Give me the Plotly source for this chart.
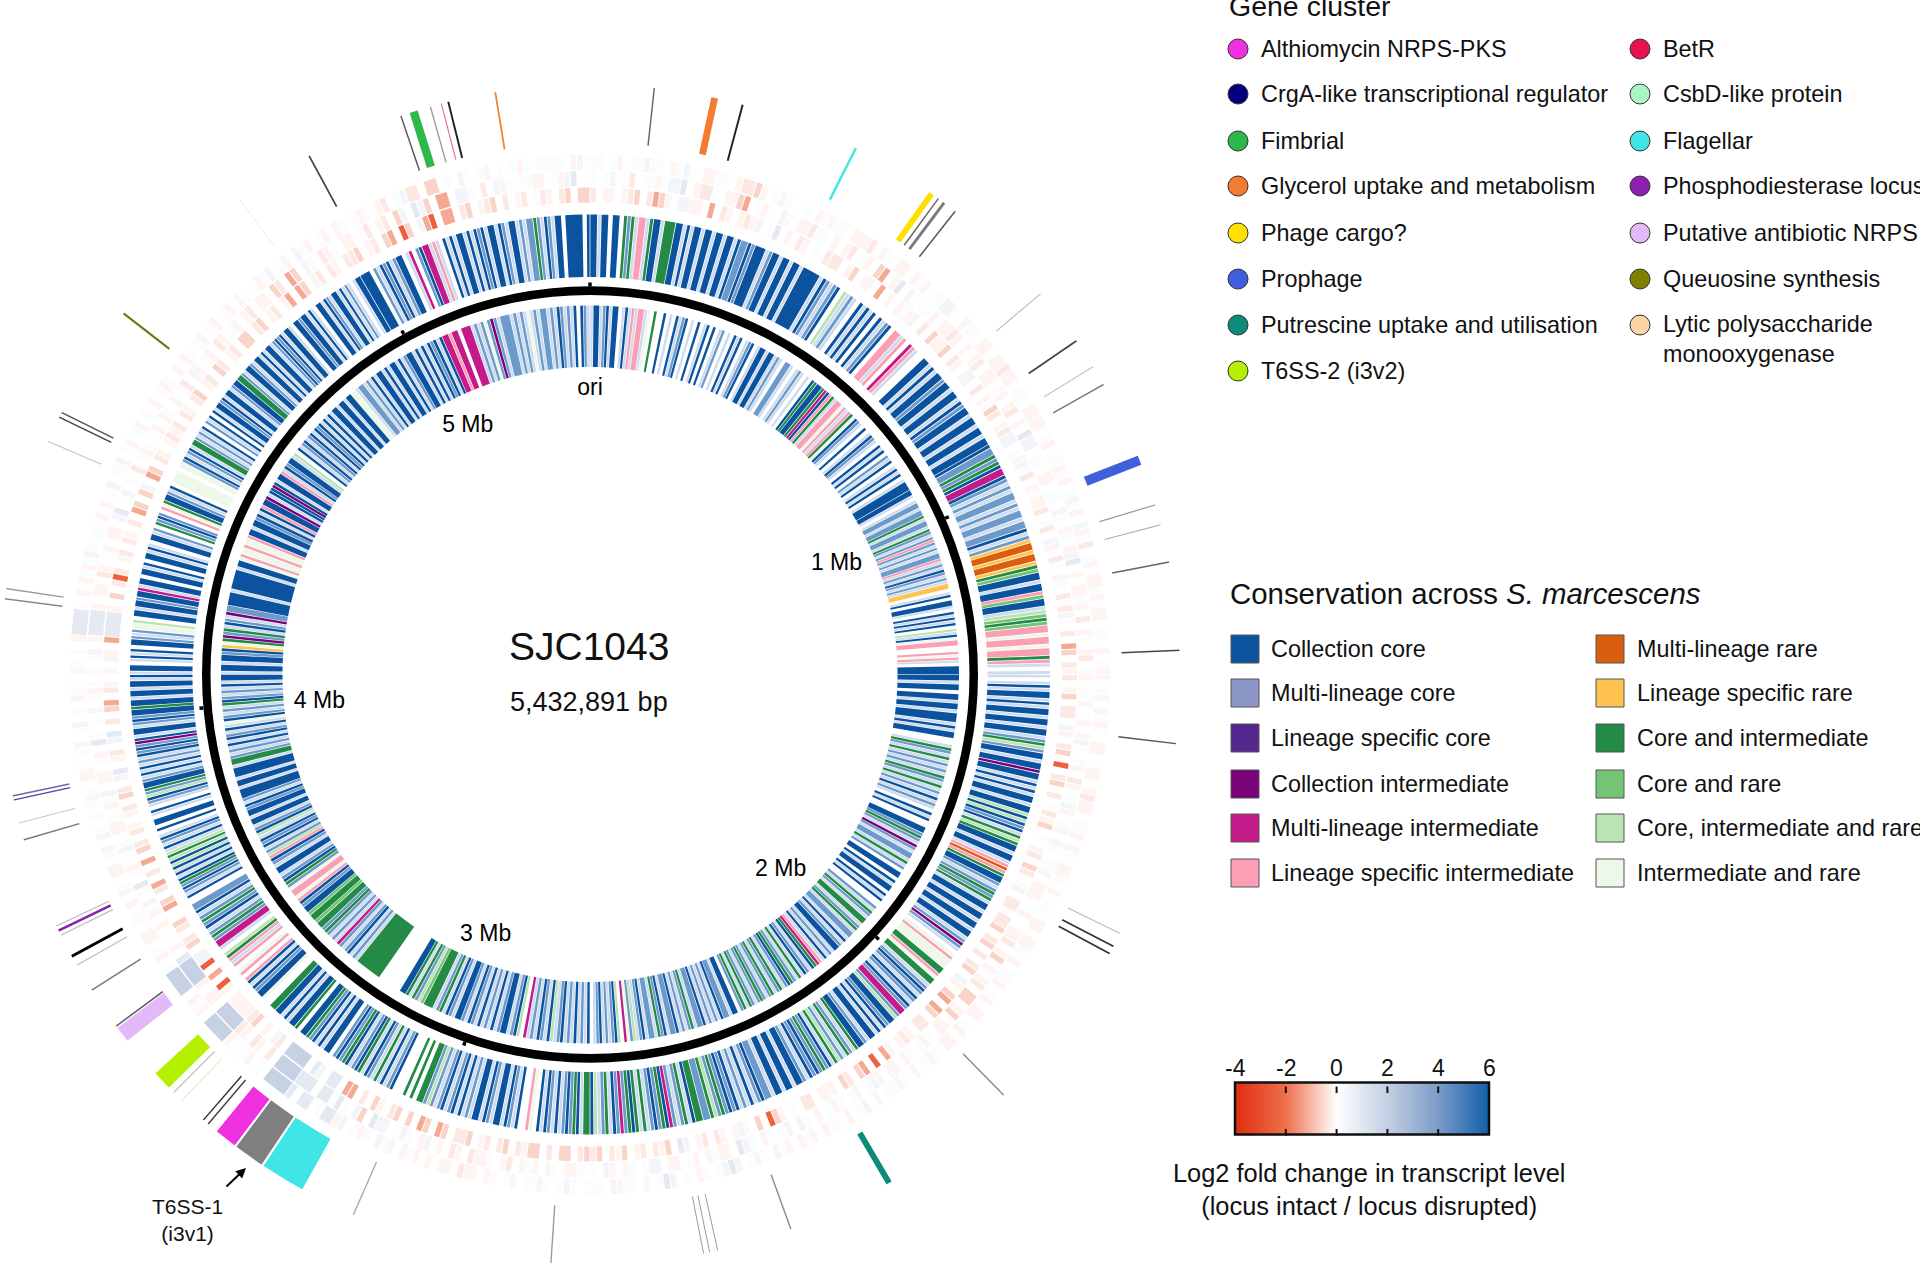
import plotly.graph_objects as go

W, H = 1920, 1270
CX, CY, RMAX = 590, 674.5, 590
FONT = "Liberation Sans"
GENOME_BP = 5432891

# conservation classes used by the two gene rings
class_names = {"B": "Collection core", "M": "Multi-lineage core", "U": "Lineage specific core",
               "D": "Collection intermediate", "P": "Multi-lineage intermediate",
               "K": "Lineage specific intermediate", "O": "Multi-lineage rare", "Y": "Lineage specific rare",
               "G": "Core and intermediate", "g": "Core and rare", "c": "Core, intermediate and rare",
               "e": "Intermediate and rare", "p": "Core (pale stripes)"}
class_colors = {"B": "#0c539f", "M": "#6c9aca", "U": "#54278f", "D": "#7a0177", "P": "#c51b8a",
                "K": "#fa9fb5", "O": "#d95f0e", "Y": "#fec44f", "G": "#238b45", "g": "#74c476",
                "c": "#bae4b3", "e": "#edf8e9", "p": "#cddcee"}

# gene rings, clockwise from ori, one string per 30 degree sector
inner_ring = [
    "pBBpMBpBB.pBpKpKKpe.G..B.p.BpMB.p.B.pB.B.pM.p.BpB.pMB.pBBpBB",
    "pMp.MMp.pMp.p.BGBBGPBKGpKKeKpKGeBMp.B.pBMp.BpB.MpB.pBpB.pBBB",
    "BBp.pMMpMMGpMMpGMpMKMpMpMMKpMpBMpMpYY.pB.BBp.BpBpB.cpBeKK..KeKp.BBB",
    "BBpBB.BBpBBpBBBpBpBB..pGMpGpMpMpGMpGpMpBpMp.BpB..BBMGMpDMpMM",
    "pGpM.BB.BpBB.BpB..MpGMpGGpMGpMMpBpMBBpMpBpKPGBpMBpGpMGBMpGMp",
    "GMpMGMpMGpGM.BBpMMBpMpMpBMMpGMpMpBMMpBMGpMMpBMpcMeP.cBMpMpBMp.",
    "BpMpBpMpBMpcBpMBpMpP.cBMpBBMpBpMpBpMBpMBBpMBpGMpGGGgcMGpG",
    "BB.......GGGGGGGGpMpBMpMPpMpMGMGGgGGgBBMBKeKKeMGBMpBBpMB",
    "KcMpBMBpcBMpBBpBBMBpMBBBpBBpBBBpGGMpMpBpBMpBpeBMpMpGBMpMpBpBB",
    "pBBpBBMBYeGDMGpBMpDMMBBBBpBBBBBBpBBeKeeKeeKBBpBBMBpBKBBDpB",
    "BDBpBBKpBMBBpc.BpMBpMBpBMBpBpBpBBpBBpBBeepMMpMpBpBBpBpBBpBpM",
    "BBpBpBpBMBpBPPKPP.PPPpMpMeMDMpMMMpMpMpepMpMMpMpBMpMpB.BMp",
]
outer_ring = [
    "BBpBB.BB.GMGpKKpGBBpGGGBBpBpBBpBBpBBpBBpBMMBMBBBpMBBpBBpBBpBBBBB",
    "pBMpMB.cpMp.BpBpB.BpMB.KKpK.PKp..BBpBpBBMBBpBBpBMBBpBBpBBpBB",
    "BMMGMGBPPBMpMpMMpMpMMpMMBpMYOOYOOYGgBBpBBKgBBpcgGgKKeKKeKKGKp.p",
    "p.pBpBBpBpBBpBBpBBpMGcMBBpBBDBBpBpBpBBpBBcBcBMBpGcGBBpBBpKOKGBBMpMGMGp",
    "BBpBBpBBpBBpMDMp.eKeeeGGKeGGpMBMpBMpBMPPMcBBMBpBpBBpMBBGpMGpMcGpBMGM",
    "BMBpMBBpBBpBBpMMBMpBpMpBMBMGMcGMMGGBpGMpMPBGMBMpGpGBGMPMBpGMpcB",
    "GGpBGMBMpBpMBpB.eK..BpMBpBBpMBpBBpMpBpBMpBMpMcMGG.G.G...BMpBpGpMBp",
    "GBMpBGMBM.BBpBpBMGBB.GBBpBpBBGG..eBBMBpBK.Ke.KpKGc.pPPMGMpBMGMpBMM",
    "..BpMBMGBpBpBcBcGcpBpMBp.B.BB.pB.pMBcMGBBMpBpBpMpBMBMDBpBBpMBMBBGBBpBBpBBpB",
    "pBB.pBpB.BBMpMeec.BBpBBMBBPpBB.BBpB.BBpBp.BBpM.GMBM.KeGBBMpB.eeee.eeMBpMBp",
    "GGMpMpB.MpB.BpBBMBpBBpMBBGGMpBBMpBBpBpBBpMBMBpBBp.BBMBBpBp.BBpBMpBBpBpMp.pBB",
    "BBB.MpBMBpMBB.pP.MBPPpKp.BpBpBBpBpBMBpBBpBMpBBpMpMMGMpBMpBB.BBBBB.B",
]

# log2 fold change codes for the three transcript rings
fold_codes = {"b": -2.4, "c": -1.2, "d": -0.6, "e": -0.3, "f": -0.15, "0": 0.0,
              "g": 0.12, "h": 0.4, "i": 0.9, "j": 1.9}
heat_outer = ["gg0gf0gghgg0fghg0ffgg0feedf0gfg00g0fgfgg", "0fffe0fg0ff0fgf0gghhg0fgg0ff0ffeff0gg0ff",
              "ff0gf0ggfgf0gfgf0hfge0gf0ffgf0ff0gg0f0gf", "f0gf0fgfg0ff0gff0feff0ggf0fg0ffg0f0gg0ff",
              "0ffg0f0ggf0gf0ff0gf0ff0gfg0f0gfgg0f0hg0f", "0ggf0fgf0fgh0gfg0hihg0gf0g0hig0f0ggfh0gg",
              "g0ghg0gfgg0fg0gf0ffe0ff0f0fgf0fgh0gfg0hf", "iig0ii0ijjjj0g0fg0gfjjjj0fgf0jjjjg0fg0ff",
              "0gg0f0fg0ff0gf0hg0g0gfg0ffg0gf0gh0g0fgg0", "fg0g0fiiiig0f0fgfghg0gg0f0f0gh0ggf0gf0gf0",
              "g0f0gfg0f0fg0gf0gf0gf0fg0gfgh0gf0hgf0gf0", "fg0gfg0fe0ghee0dd0g0hg0gf0g0gfg0gggg0fhg"]
heat_middle = ["g0gh0ge0ggfghhi0feeg0ffdc0gfg0hg0ffegg0f", "0fe0gf0dc0fi0hg0ggf0ffef0f0fe0ff0gf0fe0f",
               "0ihh0gg0ff0gg0hg0fg0fhi0f0ffgf0e0fg0fe0g", "f0ggf0gf0fhg0gf0ef0ghf0gf0hg0ggf0fff0gf0",
               "0ffe0fd0f0fe0dd0fd0ff0gfg0gf0ff0fhg0fg0g", "fg0f0gh0hg0gf0ghi0ffgf0fg0ff0hhg0gf0fh0g",
               "0gff0gf0fgf0ef0gffe0fe0f0hf0ghg0hhi0dh0g", "i0ii0iiijjjj0e0fe0fejjjj0ff0fjjjji0f0g0f",
               "0fgh0gi0gf0ghg0ffg0fgh0ff0gf0ig0g0f0gfg0", "g0gh0fiiiif0ff0ef0gf0ff0hi0gh0g0e0gfg0gf",
               "0fg0f0ge0hf0gf0ef0gf0fe0ff0de0cd0hg0efg0", "ff0ge0fe0dh0ihd0cc0hhg0e0hfg0ggff0gfhi0g"]
heat_inner = ["e0ff0fed0ecdf0hhff0c0ef0fefh0gi0f0ef0g0e", "ee0fd0ff0c0f0fgfh0e0dffd0ef0hh0e0fgde0fe",
              "hh0gfhge0fgffe0ge0hf0eg0fg0e0ehg0e0cd0ef", "e0fd0ee0hf0ed0b0ed0e0gefd0g0fe0de0gh0ee0",
              "eed0ed0e0ed0hf0dc0cd0ee0fef0fc0b0cd0ed0f", "ff0ee0g0fdb0d0ghf0fe0ef0hi0dfe0ef0dfe0de",
              "de0dd0e0ddfe0de0ef0dee0dc0dc0d0de0fd0e0c", "c0ii0hi0jjjj0eh0f0deffff0fb0c0bhh0de0ed0",
              "0cd0ec0e0c0de0ef0fe0de0hi0fe0hi0e0dc0ef0", "f0hf0ciiiif0d0ebe0fe0ef0e0cd0dh0cd0ef0fe",
              "fe0ef0ed0fe0de0fe0dd0ed0fe0fc0cd0fe0ef0e", "ed0fe0dc0bd0hcb0cc0ed0fed0e0fe0gef0ed0dd"]

# outer gene-cluster marks: angle (deg clockwise from ori), angular width, colour
mark_theta = [6.26, 12.2, 15.0, 26.8, 35.4, 36.2, 36.9, 38.25, 49.8, 55.55, 58.55, 60.55, 68.7, 73.3, 75.3, 79.0, 87.65,
              96.73, 116.04, 117.44, 118.24, 135.48, 149.53, 160.09, 167.5, 168.3, 168.9, 183.8, 203.65, 211.4, 215.33,
              218.14, 220.35, 220.95, 223.78, 224.88, 226.5, 232.42, 233.42, 237.65, 240.46, 241.46, 243.77, 244.27, 244.77,
              253.72, 255.42, 257.72, 258.12, 277.37, 278.37, 293.27, 295.87, 296.37, 307.75, 323.6, 331.56, 341.3, 342.6,
              344.3, 345.4, 346.1, 350.76]
mark_width = [0.15, 0.7, 0.2, 0.25, 0.6, 0.15, 0.3, 0.15, 0.12, 0.18, 0.12, 0.15, 1.0, 0.12, 0.12, 0.15, 0.15,
              0.15, 0.12, 0.18, 0.18, 0.14, 0.6, 0.14, 0.1, 0.1, 0.1, 0.14, 0.14, 4.4, 3.0,
              2.2, 0.15, 0.15, 0.12, 0.12, 1.9, 1.6, 0.15, 0.14, 0.12, 0.3, 0.12, 0.25, 0.12,
              0.14, 0.1, 0.14, 0.14, 0.14, 0.14, 0.12, 0.15, 0.15, 0.22, 0.1, 0.18, 0.15, 0.85,
              0.14, 0.12, 0.2, 0.18]
mark_color = ["#666666", "#f47b30", "#222222", "#40e6e6", "#ffe000", "#666666", "#7a7a7a", "#555555", "#bbbbbb",
              "#444444", "#c4c4c4", "#777777", "#3f5fdc", "#999999", "#aaaaaa", "#666666", "#444444",
              "#555555", "#bbbbbb", "#333333", "#333333", "#888888", "#0e8a78", "#888888", "#999999", "#999999",
              "#999999", "#999999", "#aaaaaa", "#40e6e6", "#808080", "#f030e0", "#444444", "#333333", "#f0e6c8",
              "#bbbbbb", "#b4f000", "#e5b9f9", "#555555", "#777777", "#bbbbbb", "#000000", "#bbbbbb", "#8a1fb0",
              "#bbbbbb", "#777777", "#c4c4c4", "#4a4a9a", "#6a6aa8", "#888888", "#999999", "#c4c4c4", "#444444",
              "#555555", "#6b7a10", "#e0f5e8", "#444444", "#555555", "#2fb84a", "#999999", "#e070a0", "#222222",
              "#f08030"]

tick_mb = [0, 1, 2, 3, 4, 5]
tick_labels = ["ori", "1 Mb", "2 Mb", "3 Mb", "4 Mb", "5 Mb"]
label_theta = [0, 65.9, 135.7, 201.8, 264.1, 333.8]
label_radius = [285.5, 270, 273, 281, 272, 277]

gene_legend_1 = [("Althiomycin NRPS-PKS", "#f030e0"), ("CrgA-like transcriptional regulator", "#000080"),
                 ("Fimbrial", "#2fb84a"), ("Glycerol uptake and metabolism", "#f47b30"), ("Phage cargo?", "#ffe000"),
                 ("Prophage", "#3f5fdc"), ("Putrescine uptake and utilisation", "#0e8a78"), ("T6SS-2 (i3v2)", "#b4f000")]
gene_legend_2 = [("BetR", "#e6114f"), ("CsbD-like protein", "#aaf5c8"), ("Flagellar", "#40e6e6"),
                 ("Phosphodiesterase locus", "#8a1fb0"), ("Putative antibiotic NRPS", "#e5b9f9"),
                 ("Queuosine synthesis", "#808000"), ("Lytic polysaccharide<br>monooxygenase", "#fbd5a8")]
gene_rows = [49, 94, 141, 186, 233, 279, 325, 371]
cons_legend_1 = ["B", "#8c96c6", "U", "D", "P", "K"]
cons_legend_2 = ["O", "Y", "G", "g", "c", "e"]
cons_rows = [649, 693, 738, 784, 828, 873]
cbar_ticks = [-4, -2, 0, 2, 4, 6]


def px(x):
    return x / W


def py(y):
    return 1 - y / H


def runs(sectors):
    """Turn sector strings into (start angle, width, code) runs."""
    out = []
    for i, s in enumerate(sectors):
        step = 30 / len(s)
        j = 0
        while j < len(s):
            k = j
            while k < len(s) and s[k] == s[j]:
                k += 1
            out.append((i * 30 + j * step, (k - j) * step, s[j]))
            j = k
    return out


fig = go.Figure()


def gene_ring(sectors, base, height, name):
    by_class = {}
    for start, width, code in runs(sectors):
        if code != ".":
            by_class.setdefault(code, []).append((start + width / 2, width - 0.1))
    for code in ["p", "e", "c", "g", "M", "B", "G", "K", "P", "D", "U", "O", "Y"]:
        if code in by_class:
            rows = by_class[code]
            fig.add_trace(go.Barpolar(theta=[t for t, _ in rows], width=[w for _, w in rows],
                                      r=[height] * len(rows), base=base, name=f"{name}: {class_names[code]}",
                                      marker=dict(color=class_colors[code], line=dict(width=0)),
                                      hoverinfo="name", showlegend=False))


def heat_ring(sectors, base, height, name):
    rows = runs(sectors)
    fig.add_trace(go.Barpolar(theta=[s + w / 2 for s, w, _ in rows], width=[w - 0.12 for _, w, _ in rows],
                              r=[height] * len(rows), base=base, name=name,
                              marker=dict(color=[fold_codes[c] for _, _, c in rows], coloraxis="coloraxis",
                                          line=dict(width=0)),
                              showlegend=False))


gene_ring(inner_ring, 307.5, 61.5, "Inner")
gene_ring(outer_ring, 397.5, 62.5, "Outer")
heat_ring(heat_inner, 472, 15, "Transcript 1")
heat_ring(heat_middle, 488.5, 15, "Transcript 2")
heat_ring(heat_outer, 505, 15, "Transcript 3")

# backbone and ticks
tick_theta = [m * 1e6 / GENOME_BP * 360 for m in tick_mb]
fig.add_trace(go.Barpolar(theta=[180], width=[360], r=[8.5], base=379.5, marker=dict(color="black", line=dict(width=0)),
                          showlegend=False, hoverinfo="skip"))
fig.add_trace(go.Barpolar(theta=tick_theta, width=[0.5] * 6, r=[4] * 6, base=388,
                          marker=dict(color="black", line=dict(width=0)), showlegend=False, hoverinfo="skip"))

# wide loci are wedges; narrow ones are radial lines, which may run past the polar clip circle
MARK_BASE, MARK_TOP = 532, 594
wide = [i for i, w in enumerate(mark_width) if w >= 1.5]
fig.add_trace(go.Barpolar(theta=[mark_theta[i] for i in wide], width=[mark_width[i] for i in wide],
                          r=[MARK_TOP - MARK_BASE] * len(wide), base=MARK_BASE,
                          marker=dict(color=[mark_color[i] for i in wide], line=dict(width=0)),
                          showlegend=False, hoverinfo="theta"))
for i, w in enumerate(mark_width):
    if w < 1.5:
        fig.add_trace(go.Scatterpolar(theta=[mark_theta[i]] * 2, r=[MARK_BASE, MARK_TOP], mode="lines",
                                      line=dict(color=mark_color[i], width=w * 9.77), cliponaxis=False,
                                      showlegend=False, hoverinfo="theta"))
fig.add_trace(go.Scatterpolar(theta=label_theta, r=label_radius, text=tick_labels, mode="text",
                              textfont=dict(family=FONT, size=23, color="black"), showlegend=False, hoverinfo="skip"))

annotations = []


def note(x, y, text, size=23.4, anchor="left"):
    annotations.append(dict(x=px(x), y=py(y), xref="paper", yref="paper", text=text, showarrow=False, xanchor=anchor,
                            yanchor="middle", align="center" if anchor == "center" else "left",
                            font=dict(family=FONT, size=size, color="#111111")))


shapes = []
note(1227, 6, "Gene cluster", 28.5)
for (label, color), y in zip(gene_legend_1, gene_rows):
    note(1259, y, label)
    shapes.append(dict(type="circle", xref="paper", yref="paper", x0=px(1228), x1=px(1248), y0=py(y - 10), y1=py(y + 10),
                       fillcolor=color, line=dict(color="#333333", width=1)))
for i, (label, color) in enumerate(gene_legend_2):
    y = gene_rows[i]
    note(1661, y + (14 if "<br>" in label else 0), label)
    shapes.append(dict(type="circle", xref="paper", yref="paper", x0=px(1630), x1=px(1650), y0=py(y - 10), y1=py(y + 10),
                       fillcolor=color, line=dict(color="#333333", width=1)))

note(1228, 594, "Conservation across <i>S. marcescens</i>", 29.4)
legend_names_1 = ["Collection core", "Multi-lineage core", "Lineage specific core", "Collection intermediate",
                  "Multi-lineage intermediate", "Lineage specific intermediate"]
legend_names_2 = ["Multi-lineage rare", "Lineage specific rare", "Core and intermediate", "Core and rare",
                  "Core, intermediate and rare", "Intermediate and rare"]
for x_box, x_text, names, codes in [(1231, 1269, legend_names_1, cons_legend_1), (1596, 1635, legend_names_2, cons_legend_2)]:
    for name, code, y in zip(names, codes, cons_rows):
        note(x_text, y, name)
        shapes.append(dict(type="rect", xref="paper", yref="paper", x0=px(x_box), x1=px(x_box + 28), y0=py(y - 14), y1=py(y + 14),
                           fillcolor=class_colors.get(code, code), line=dict(color="#555555", width=1)))

note(589, 646, "SJC1043", 39, "center")
note(589, 702, "5,432,891 bp", 27, "center")
note(187, 1220, "T6SS-1<br>(i3v1)", 21, "center")
note(1369, 1189, "Log2 fold change in transcript level<br>(locus intact / locus disrupted)", 25.4, "center")
annotations.append(dict(x=px(246), y=py(1168), xref="paper", yref="paper", ax=-21, ay=20, text="", showarrow=True,
                        arrowhead=2, arrowsize=1, arrowwidth=2, arrowcolor="black"))

# colour bar labels and paired inward ticks sit on the bar drawn by the colour axis
BAR_X0, BAR_X1, BAR_Y0, BAR_Y1 = 1235, 1489, 1085, 1137
for v in cbar_ticks:
    x = BAR_X0 + (v + 4) / 10 * (BAR_X1 - BAR_X0)
    note(x, 1068, str(v), 23, "center")
    if v not in (-4, 6):
        for tip, tail in [(BAR_Y0 + 8, -8), (BAR_Y1 - 8, 8)]:
            annotations.append(dict(x=px(x), y=py(tip), xref="paper", yref="paper", ax=0, ay=tail, text="",
                                    showarrow=True, arrowhead=0, arrowwidth=2, arrowcolor="#111111"))

fig.update_layout(
    width=W, height=H, margin=dict(l=0, r=0, t=0, b=0), paper_bgcolor="white", showlegend=False,
    polar=dict(domain=dict(x=[px(CX - RMAX), px(CX + RMAX)], y=[py(CY + RMAX), py(CY - RMAX)]),
               bgcolor="rgba(0,0,0,0)", barmode="overlay",
               radialaxis=dict(range=[0, RMAX], visible=False),
               angularaxis=dict(rotation=90, direction="clockwise", visible=False)),
    coloraxis=dict(cmin=-4, cmax=6,
                   colorscale=[[0, "#de2d10"], [0.2, "#ef6f4b"], [0.4, "#ffffff"], [0.6, "#c3cfe3"], [0.8, "#7d9bc8"], [1, "#0f5fa8"]],
                   colorbar=dict(orientation="h", x=px(BAR_X0), xanchor="left", y=py(BAR_Y1), yanchor="bottom",
                                 len=BAR_X1 - BAR_X0, lenmode="pixels", thickness=BAR_Y1 - BAR_Y0, thicknessmode="pixels",
                                 xpad=0, ypad=0, tickvals=cbar_ticks, ticks="", showticklabels=False,
                                 outlinewidth=2.5, outlinecolor="#111111")),
    annotations=annotations, shapes=shapes,
)
fig.write_html("out.html", config={"displayModeBar": False}, post_script="document.body.style.margin='0';")
